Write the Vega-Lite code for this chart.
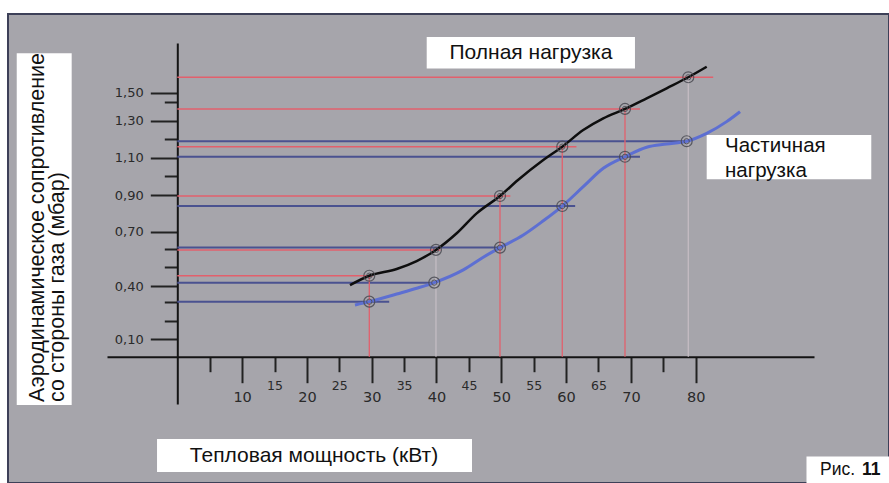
{
  "$schema": "https://vega.github.io/schema/vega-lite/v6.json",
  "width": 881,
  "height": 469,
  "autosize": {"type": "none"},
  "padding": {"left": 8, "top": 14, "right": 0, "bottom": 0},
  "background": "#ffffff",
  "config": {
    "view": {"fill": "#a6a5ab", "stroke": "#3d4058", "strokeWidth": 2},
    "font": "Liberation Sans"
  },
  "datasets": {
    "curves": [
      {"load": "Полная нагрузка", "power": 26.65, "resistance": 0.405},
      {"load": "Полная нагрузка", "power": 29.63, "resistance": 0.455},
      {"load": "Полная нагрузка", "power": 33.86, "resistance": 0.491},
      {"load": "Полная нагрузка", "power": 36.94, "resistance": 0.534},
      {"load": "Полная нагрузка", "power": 39.92, "resistance": 0.595},
      {"load": "Полная нагрузка", "power": 43.12, "resistance": 0.691},
      {"load": "Полная нагрузка", "power": 46.2, "resistance": 0.801},
      {"load": "Полная нагрузка", "power": 49.8, "resistance": 0.896},
      {"load": "Полная нагрузка", "power": 52.58, "resistance": 0.978},
      {"load": "Полная нагрузка", "power": 56.48, "resistance": 1.087},
      {"load": "Полная нагрузка", "power": 59.41, "resistance": 1.159},
      {"load": "Полная нагрузка", "power": 62.65, "resistance": 1.249},
      {"load": "Полная нагрузка", "power": 65.74, "resistance": 1.313},
      {"load": "Полная нагрузка", "power": 69.09, "resistance": 1.364},
      {"load": "Полная нагрузка", "power": 72.44, "resistance": 1.442},
      {"load": "Полная нагрузка", "power": 75.52, "resistance": 1.525},
      {"load": "Полная нагрузка", "power": 78.86, "resistance": 1.587},
      {"load": "Полная нагрузка", "power": 81.7, "resistance": 1.646},
      {"load": "Частичная нагрузка", "power": 27.42, "resistance": 0.285},
      {"load": "Частичная нагрузка", "power": 29.63, "resistance": 0.304},
      {"load": "Частичная нагрузка", "power": 33.86, "resistance": 0.351},
      {"load": "Частичная нагрузка", "power": 36.94, "resistance": 0.386},
      {"load": "Частичная нагрузка", "power": 39.66, "resistance": 0.418},
      {"load": "Частичная нагрузка", "power": 44.14, "resistance": 0.486},
      {"load": "Частичная нагрузка", "power": 47.22, "resistance": 0.555},
      {"load": "Частичная нагрузка", "power": 49.8, "resistance": 0.608},
      {"load": "Частичная нагрузка", "power": 53.4, "resistance": 0.681},
      {"load": "Частичная нагрузка", "power": 56.48, "resistance": 0.76},
      {"load": "Частичная нагрузка", "power": 59.41, "resistance": 0.841},
      {"load": "Частичная нагрузка", "power": 62.65, "resistance": 0.944},
      {"load": "Частичная нагрузка", "power": 65.74, "resistance": 1.041},
      {"load": "Частичная нагрузка", "power": 69.09, "resistance": 1.105},
      {"load": "Частичная нагрузка", "power": 72.44, "resistance": 1.156},
      {"load": "Частичная нагрузка", "power": 75.52, "resistance": 1.173},
      {"load": "Частичная нагрузка", "power": 78.61, "resistance": 1.188},
      {"load": "Частичная нагрузка", "power": 81.7, "resistance": 1.231},
      {"load": "Частичная нагрузка", "power": 84.78, "resistance": 1.295},
      {"load": "Частичная нагрузка", "power": 86.84, "resistance": 1.349}
    ],
    "points": [
      {"load": "Полная нагрузка", "power": 29.63, "resistance": 0.455},
      {"load": "Полная нагрузка", "power": 39.92, "resistance": 0.595},
      {"load": "Полная нагрузка", "power": 49.8, "resistance": 0.896},
      {"load": "Полная нагрузка", "power": 59.41, "resistance": 1.159},
      {"load": "Полная нагрузка", "power": 69.09, "resistance": 1.364},
      {"load": "Полная нагрузка", "power": 78.86, "resistance": 1.587},
      {"load": "Частичная нагрузка", "power": 29.63, "resistance": 0.304},
      {"load": "Частичная нагрузка", "power": 39.66, "resistance": 0.418},
      {"load": "Частичная нагрузка", "power": 49.8, "resistance": 0.608},
      {"load": "Частичная нагрузка", "power": 59.41, "resistance": 0.841},
      {"load": "Частичная нагрузка", "power": 69.09, "resistance": 1.105},
      {"load": "Частичная нагрузка", "power": 78.61, "resistance": 1.188}
    ],
    "hguides": [
      {"load": "Полная нагрузка", "resistance": 0.455, "power": 30.2},
      {"load": "Полная нагрузка", "resistance": 0.595, "power": 40.6},
      {"load": "Полная нагрузка", "resistance": 0.896, "power": 51.4},
      {"load": "Полная нагрузка", "resistance": 1.159, "power": 61.6},
      {"load": "Полная нагрузка", "resistance": 1.364, "power": 71.4},
      {"load": "Полная нагрузка", "resistance": 1.587, "power": 82.7},
      {"load": "Частичная нагрузка", "resistance": 0.304, "power": 32.7},
      {"load": "Частичная нагрузка", "resistance": 0.418, "power": 39.7},
      {"load": "Частичная нагрузка", "resistance": 0.608, "power": 49.9},
      {"load": "Частичная нагрузка", "resistance": 0.841, "power": 61.4},
      {"load": "Частичная нагрузка", "resistance": 1.105, "power": 71.4},
      {"load": "Частичная нагрузка", "resistance": 1.188, "power": 78.8}
    ]
  },
  "layer": [
    {
      "data": {"name": "hguides"},
      "transform": [{"filter": "datum.load == 'Частичная нагрузка'"}],
      "mark": {"type": "rule", "color": "#4a5290", "strokeWidth": 2},
      "encoding": {
        "x": {"field": "power", "type": "quantitative",
          "scale": {"domain": [-10.85, 98.26], "range": [99, 806], "nice": false, "zero": false},
          "axis": {"title": null, "orient": "bottom", "offset": -126.3, "tickCount": 40,
            "values": [5, 10, 15, 20, 25, 30, 35, 40, 45, 50, 55, 60, 65, 70, 75, 80],
            "grid": false, "domainColor": "#141414", "domainWidth": 2,
            "tickColor": "#222222", "tickWidth": 2,
            "tickSize": {"condition": {"test": "round(datum.value) % 10 == 0", "value": 26}, "value": 15},
            "labelExpr": "round(datum.value) == 5 || round(datum.value) == 75 ? '' : datum.label",
            "labelFont": "DejaVu Sans",
            "labelFontSize": {"condition": {"test": "round(datum.value) % 10 == 0", "value": 14.5}, "value": 12.5},
            "labelColor": "#2a2a2a", "labelPadding": 8,
            "labelOverlap": false, "labelBound": false, "labelFlush": false}
        },
        "x2": {"datum": 0},
        "y": {"field": "resistance", "type": "quantitative",
          "scale": {"domain": [-0.26, 0, 0.1, 0.2, 0.3, 0.4, 0.5, 0.6, 0.7, 0.9, 1.0, 1.1, 1.2, 1.3, 1.4, 1.5, 1.78],
                    "range": [390, 342.7, 325.3, 306.7, 288.3, 272, 253.3, 235, 217.7, 181.3, 161.7, 143.7, 125, 106.7, 88.3, 78.7, 29],
                    "nice": false, "zero": false},
          "axis": {"title": null, "orient": "left", "offset": -169.3, "tickCount": 40,
            "values": [0.1, 0.2, 0.3, 0.4, 0.5, 0.6, 0.7, 0.9, 1.0, 1.1, 1.2, 1.3, 1.4, 1.5],
            "grid": false, "domainColor": "#141414", "domainWidth": 2,
            "tickColor": "#222222", "tickWidth": 2,
            "tickSize": {"condition": {"test": "abs(datum.value - 0.1) < 0.01 || abs(datum.value - 0.4) < 0.01 || abs(datum.value - 0.7) < 0.01 || abs(datum.value - 0.9) < 0.01 || abs(datum.value - 1.1) < 0.01 || abs(datum.value - 1.3) < 0.01 || abs(datum.value - 1.5) < 0.01", "value": 27}, "value": 13},
            "labelExpr": "(abs(datum.value - 0.1) < 0.01 || abs(datum.value - 0.4) < 0.01 || abs(datum.value - 0.7) < 0.01 || abs(datum.value - 0.9) < 0.01 || abs(datum.value - 1.1) < 0.01 || abs(datum.value - 1.3) < 0.01 || abs(datum.value - 1.5) < 0.01) ? replace(format(datum.value, '.2f'), '.', ',') : ''",
            "labelFont": "DejaVu Sans", "labelFontSize": 13, "labelColor": "#2a2a2a",
            "labelPadding": 7, "labelOverlap": false, "labelBound": false, "labelFlush": false}
        }
      }
    },
    {
      "data": {"name": "hguides"},
      "transform": [{"filter": "datum.load == 'Полная нагрузка'"}],
      "mark": {"type": "rule", "color": "#e2606c", "strokeWidth": 1.5},
      "encoding": {
        "x": {"field": "power", "type": "quantitative"},
        "x2": {"datum": 0},
        "y": {"field": "resistance", "type": "quantitative"}
      }
    },
    {
      "data": {"name": "points"},
      "transform": [{"filter": "datum.load == 'Полная нагрузка'"}],
      "mark": {"type": "rule", "strokeWidth": 1.3},
      "encoding": {
        "x": {"field": "power", "type": "quantitative"},
        "y": {"field": "resistance", "type": "quantitative"},
        "y2": {"datum": 0},
        "color": {"condition": {"test": "round(datum.power / 10) % 4 == 0", "value": "#c4bcc3"}, "value": "#e2606c"}
      }
    },
    {
      "data": {"name": "curves"},
      "transform": [{"filter": "datum.load == 'Частичная нагрузка'"}],
      "mark": {"type": "line", "color": "#5d6fd2", "strokeWidth": 3, "interpolate": "monotone"},
      "encoding": {
        "x": {"field": "power", "type": "quantitative"},
        "y": {"field": "resistance", "type": "quantitative"}
      }
    },
    {
      "data": {"name": "curves"},
      "transform": [{"filter": "datum.load == 'Полная нагрузка'"}],
      "mark": {"type": "line", "color": "#0e0e0e", "strokeWidth": 2.5, "interpolate": "monotone"},
      "encoding": {
        "x": {"field": "power", "type": "quantitative"},
        "y": {"field": "resistance", "type": "quantitative"}
      }
    },
    {
      "data": {"name": "points"},
      "mark": {"type": "point", "shape": "circle", "filled": false, "size": 120, "stroke": "#4a4a52", "strokeWidth": 1.2, "opacity": 0.85},
      "encoding": {
        "x": {"field": "power", "type": "quantitative"},
        "y": {"field": "resistance", "type": "quantitative"}
      }
    },
    {
      "data": {"name": "points"},
      "mark": {"type": "point", "shape": "circle", "filled": false, "size": 28, "stroke": "#4a4a52", "strokeWidth": 1, "opacity": 0.85},
      "encoding": {
        "x": {"field": "power", "type": "quantitative"},
        "y": {"field": "resistance", "type": "quantitative"}
      }
    },
    {
      "data": {"values": [{}]},
      "mark": {"type": "rect", "color": "#ffffff"},
      "encoding": {
        "x": {"datum": -24.78, "type": "quantitative"},
        "x2": {"datum": -16.3},
        "y": {"datum": 1.722, "type": "quantitative"},
        "y2": {"datum": -0.265}
      }
    },
    {
      "data": {"values": [{}]},
      "mark": {"type": "text", "text": ["Аэродинамическое сопротивление", "со стороны газа (мбар)"], "angle": 270, "align": "left", "baseline": "middle", "lineHeight": 20, "fontSize": 21.5, "color": "#111111", "font": "Liberation Sans"},
      "encoding": {
        "x": {"datum": -21.57, "type": "quantitative"},
        "y": {"datum": -0.249, "type": "quantitative"}
      }
    },
    {
      "data": {"values": [{}]},
      "mark": {"type": "rect", "color": "#ffffff"},
      "encoding": {
        "x": {"datum": 38.49, "type": "quantitative"},
        "x2": {"datum": 70.63},
        "y": {"datum": 1.814, "type": "quantitative"},
        "y2": {"datum": 1.637}
      }
    },
    {
      "data": {"values": [{}]},
      "mark": {"type": "text", "text": "Полная нагрузка", "align": "center", "baseline": "middle", "fontSize": 21, "color": "#111111", "font": "Liberation Sans"},
      "encoding": {
        "x": {"datum": 54.58, "type": "quantitative"},
        "y": {"datum": 1.726, "type": "quantitative"}
      }
    },
    {
      "data": {"values": [{}]},
      "mark": {"type": "rect", "color": "#ffffff"},
      "encoding": {
        "x": {"datum": 81.7, "type": "quantitative"},
        "x2": {"datum": 107.1},
        "y": {"datum": 1.222, "type": "quantitative"},
        "y2": {"datum": 0.982}
      }
    },
    {
      "data": {"values": [{}]},
      "mark": {"type": "text", "text": ["Частичная", "нагрузка"], "align": "left", "baseline": "middle", "lineHeight": 25, "fontSize": 20.5, "color": "#111111", "font": "Liberation Sans"},
      "encoding": {
        "x": {"datum": 84.52, "type": "quantitative"},
        "y": {"datum": 1.16, "type": "quantitative"}
      }
    },
    {
      "data": {"values": [{}]},
      "mark": {"type": "rect", "color": "#ffffff"},
      "encoding": {
        "x": {"datum": -3.13, "type": "quantitative"},
        "x2": {"datum": 45.48},
        "y": {"datum": -0.452, "type": "quantitative"},
        "y2": {"datum": -0.634}
      }
    },
    {
      "data": {"values": [{}]},
      "mark": {"type": "text", "text": "Тепловая мощность (кВт)", "align": "center", "baseline": "middle", "fontSize": 21, "color": "#111111", "font": "Liberation Sans"},
      "encoding": {
        "x": {"datum": 21.1, "type": "quantitative"},
        "y": {"datum": -0.546, "type": "quantitative"}
      }
    },
    {
      "data": {"values": [{}]},
      "mark": {"type": "rect", "color": "#ffffff"},
      "encoding": {
        "x": {"datum": 97.1, "type": "quantitative"},
        "x2": {"datum": 120},
        "y": {"datum": -0.549, "type": "quantitative"},
        "y2": {"datum": -0.75}
      }
    },
    {
      "data": {"values": [{}]},
      "mark": {"type": "text", "text": "Рис.", "align": "left", "baseline": "middle", "fontSize": 17.5, "color": "#111111", "font": "Liberation Sans"},
      "encoding": {
        "x": {"datum": 99.19, "type": "quantitative"},
        "y": {"datum": -0.623, "type": "quantitative"}
      }
    },
    {
      "data": {"values": [{}]},
      "mark": {"type": "text", "text": "11", "align": "left", "baseline": "middle", "fontSize": 17.5, "fontWeight": "bold", "color": "#111111", "font": "Liberation Sans"},
      "encoding": {
        "x": {"datum": 105.67, "type": "quantitative"},
        "y": {"datum": -0.623, "type": "quantitative"}
      }
    }
  ]
}
